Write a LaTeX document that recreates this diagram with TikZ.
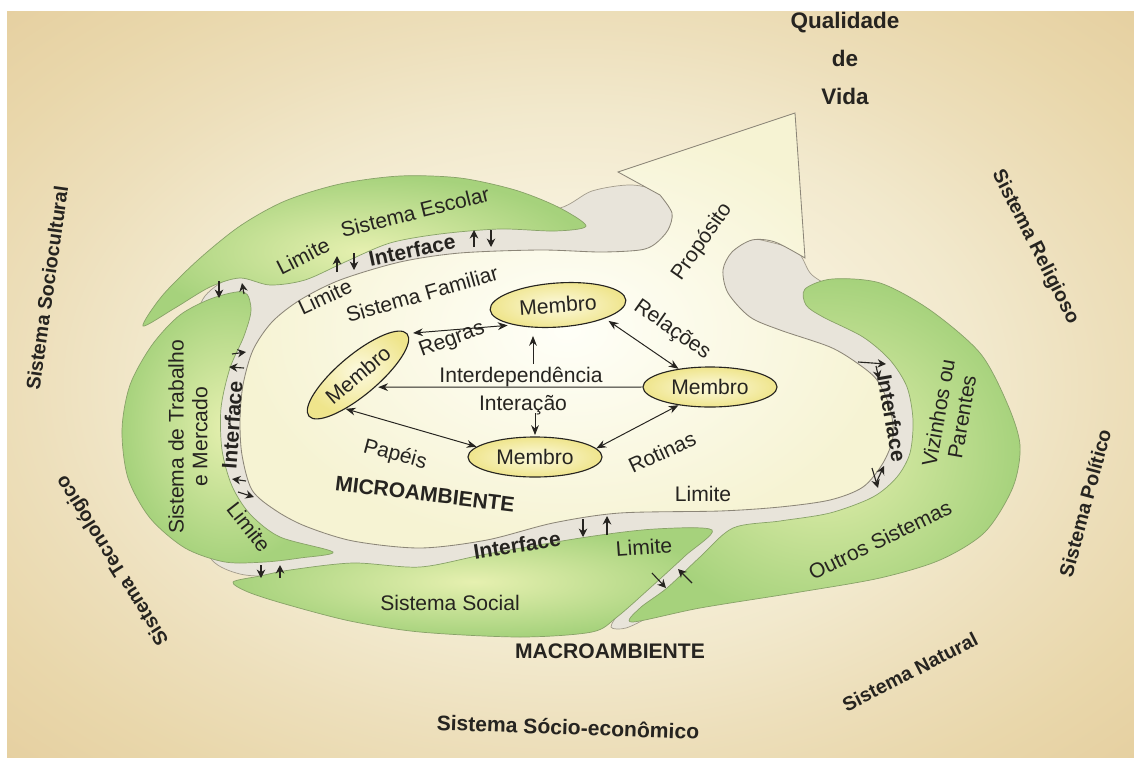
\documentclass[tikz,border=0pt]{standalone}
\usepackage{fontspec}
\setmainfont{Liberation Sans}
\usetikzlibrary{arrows.meta}
\usetikzlibrary{shapes.geometric}

\definecolor{ink}{HTML}{262420}
\definecolor{bgA}{HTML}{FCFAEE}
\definecolor{bgB}{HTML}{F7F1DC}
\definecolor{bgC}{HTML}{F2E9CD}
\definecolor{bgD}{HTML}{EDDFBB}
\definecolor{bgE}{HTML}{E9D7AB}
\definecolor{bgF}{HTML}{E5CE9E}
\definecolor{bandgray}{HTML}{E8E4DA}
\definecolor{bandline}{HTML}{A39C8C}
\definecolor{famin}{HTML}{FFFFF8}
\definecolor{famout}{HTML}{F6F3D3}
\definecolor{famline}{HTML}{8C8678}
\definecolor{grn}{HTML}{A6D27C}
\definecolor{grnlite}{HTML}{E6F0B0}
\definecolor{grnline}{HTML}{88A268}
\definecolor{mbin}{HTML}{FCF9DE}
\definecolor{mbout}{HTML}{EFE58C}

\pgfdeclareradialshading{bgshade}{\pgfpoint{0bp}{0bp}}{color(0bp)=(bgA); color(11bp)=(bgB); color(18bp)=(bgC); color(24bp)=(bgD); color(30bp)=(bgE); color(37bp)=(bgF); color(50bp)=(bgF)}

\begin{document}
\begin{tikzpicture}[x=0.025cm, y=-0.025cm,
    lbl/.style={text=ink, font=\fontsize{15}{17}\selectfont, inner sep=1pt},
    blbl/.style={lbl, font=\fontsize{15}{17}\selectfont\bfseries},
    olbl/.style={text=ink, font=\fontsize{14}{16}\selectfont\bfseries, inner sep=1pt},
    band/.style={fill=bandgray, draw=bandline, line width=0.5pt},
    famarea/.style={draw=famline, line width=0.6pt, inner color=famin, outer color=famout},
    sysarea/.style={draw=grnline, line width=0.5pt, inner color=grnlite, outer color=grn},
    membro/.style={ellipse, draw=ink, line width=0.8pt, inner color=mbin, outer color=mbout,
        minimum width=3.35cm, minimum height=1cm, inner sep=0pt, text=ink,
        font=\fontsize{15}{17}\selectfont},
    arr/.style={draw=ink, line width=0.7pt, -{Stealth[length=7pt,width=5.5pt]}},
    darr/.style={draw=ink, line width=0.7pt, {Stealth[length=7pt,width=5.5pt]}-{Stealth[length=7pt,width=5.5pt]}},
    sarr/.style={draw=ink, line width=0.8pt, -{Stealth[length=6pt,width=6pt]}}]

    \useasboundingbox (0,0) rectangle (1134,758);
    \fill[white] (0,0) rectangle (1134,758);

    % background rings
    \shade[shading=bgshade] (7,11) rectangle (1134,758);

    % interface band
    \draw[band] plot[smooth cycle, tension=0.5] coordinates {
        (205,296) (240,273) (300,262) (350,246) (420,226) (500,216) (560,208)
        (592,191) (632,185) (664,194) (700,222) (745,236) (795,250) (812,275)
        (845,295) (885,322) (918,368) (930,410) (925,460) (900,500) (860,520)
        (790,530) (745,536) (715,560) (682,592) (650,616) (626,628) (611,627)
        (622,610) (648,588) (672,563) (684,548) (640,545) (590,550) (500,565)
        (420,576) (330,572) (275,576) (240,574) (212,560) (195,520) (188,460)
        (190,390) (195,330)};

    % family system with purpose arrow
    \draw[famarea] plot[smooth, tension=0.5] coordinates {
        (660,195) (672,213) (668,230) (655,244) (640,250) (600,252) (540,250)
        (460,253) (400,262) (340,280) (300,300) (272,322) (253,350) (243,385)
        (240,420) (242,455) (252,490) (275,510) (305,526) (353,541) (420,548)
        (487,540) (553,523) (620,513) (720,511) (780,507) (830,500) (863,487)
        (883,463) (893,437) (890,408) (877,380) (857,363) (830,347) (780,330)
        (750,317) (728,293) (723,270) (732,252) (752,240) (775,242) (805,258)}
        -- (795,113) -- (618,172) -- cycle;

    % surrounding systems
    \draw[sysarea] plot[smooth cycle, tension=0.5] coordinates {
        (143,326) (162,296) (198,260) (240,226) (285,201) (340,184) (400,176)
        (460,178) (515,190) (558,207) (586,226) (555,231) (500,229) (440,234)
        (390,243) (345,262) (305,280) (270,285) (240,278) (210,287) (175,308)};
    \draw[sysarea] plot[smooth cycle, tension=0.5] coordinates {
        (244,292) (251,310) (244,336) (230,368) (221,408) (222,450) (232,486)
        (250,514) (280,537) (333,552) (300,558) (265,562) (225,562) (185,548)
        (150,518) (128,478) (122,430) (130,385) (152,345) (180,315) (213,298)};
    \draw[sysarea] plot[smooth cycle, tension=0.5] coordinates {
        (233,582) (260,576) (290,570) (353,563) (420,567) (487,554) (587,537)
        (655,529) (712,530) (685,556) (650,588) (617,617) (592,632) (520,637)
        (420,632) (350,621) (285,604) (248,592)};
    \draw[sysarea] plot[smooth cycle, tension=0.5] coordinates {
        (805,289) (832,279) (880,283) (930,310) (980,353) (1007,403) (1020,445)
        (1013,487) (985,532) (940,560) (880,578) (800,592) (700,608) (632,622)
        (640,608) (667,588) (700,557) (733,528) (780,521) (830,513) (873,497)
        (897,477) (910,453) (913,420) (907,387) (890,360) (863,337) (823,317)
        (806,305)};

    % members
    \node[membro, minimum width=3.4cm, minimum height=1.1cm, rotate=4] (mt) at (558,305) {Membro};
    \node[membro, minimum width=3.2cm, rotate=40] (ml) at (358,375) {Membro};
    \node[membro] (mr) at (710,387) {Membro};
    \node[membro] (mb) at (535,457) {Membro};

    \coordinate (up0) at (533,364);
    \coordinate (dn0) at (535,413);
    \draw[darr, shorten <=4pt, shorten >=4pt] (ml.east) -- (mt.200);
    \draw[darr, shorten <=3pt] (mt.-20) -- (mr.150);
    \draw[darr] (ml.-150) -- (mb.170);
    \draw[darr] (mb.8) -- (mr.210);
    \draw[arr, shorten >=2pt] (mr.west) -- (ml.-75);
    \draw[arr, shorten >=6pt] (up0) -- (up0 |- mt.south);
    \draw[arr, shorten >=1pt] (dn0) -- (dn0 |- mb.north);

    % interface arrows
    \foreach \xa/\ya/\xb/\yb in {219/281/219/298, 244/294/242/283,
        337/272/337/256, 354/253/354/270, 474/247/474/230, 491/230/491/247,
        232/354/246/352, 244/368/229/367, 246/481/232/479, 238/492/254/497,
        261/565/261/578, 280/578/280/565, 583/519/583/537, 607/535/607/516,
        652/573/666/588, 692/583/678/569, 858/362/886/364, 876/366/879/379,
        876/483/884/466, 872/468/878/488}
        \draw[sarr] (\xa,\ya) -- (\xb,\yb);

    % labels
    \node[lbl, rotate=14] (escolar) at (415,212) {Sistema Escolar};
    \node[lbl, rotate=27] (lim1) at (303,256) {Limite};
    \node[blbl, rotate=12] (if1) at (412,250) {Interface};
    \node[lbl, rotate=25] (lim2) at (325,297) {Limite};
    \node[lbl, rotate=16] (familiar) at (422,294) {Sistema Familiar};
    \node[lbl, rotate=90, align=center] (trabalho) at (188,437) {Sistema de Trabalho\\e Mercado};
    \node[blbl, rotate=86] (if2) at (232,425) {Interface};
    \node[lbl, rotate=-52] (lim3) at (249,527) {Limite};
    \node[blbl, rotate=9] (if3) at (517,545) {Interface};
    \node[lbl, rotate=4] (lim4) at (644,547) {Limite};
    \node[lbl] (social) at (450,603) {Sistema Social};
    \node[lbl] (lim5) at (703,494) {Limite};
    \node[blbl, rotate=-80] (if4) at (892,418) {Interface};
    \node[lbl, rotate=80, align=center] (vizinhos) at (950,415) {Vizinhos ou\\Parentes};
    \node[lbl, rotate=26] (outros) at (880,540) {Outros Sistemas};
    \node[lbl, rotate=55] (proposito) at (702,242) {Propósito};
    \node[lbl, rotate=20] (regras) at (452,340) {Regras};
    \node[lbl, rotate=-35] (relacoes) at (672,330) {Relações};
    \node[lbl] (interdep) at (521,377) {Interdependência};
    \node[lbl] (interacao) at (523,405) {Interação};
    \node[lbl, rotate=-15] (papeis) at (395,455) {Papéis};
    \node[lbl, rotate=25] (rotinas) at (662,452) {Rotinas};
    \node[blbl, rotate=-7] (micro) at (425,494) {MICROAMBIENTE};
    \node[blbl] (macro) at (610,651) {MACROAMBIENTE};
    \node[text=ink, font=\fontsize{16}{27}\selectfont\bfseries, align=center] (qvida) at (845,58) {Qualidade\\de\\Vida};

    % outer systems
    \node[olbl, rotate=82] (sociocult) at (47,288) {Sistema Sociocultural};
    \node[olbl, rotate=-63] (religioso) at (1035,247) {Sistema Religioso};
    \node[olbl, rotate=75] (politico) at (1085,503) {Sistema Político};
    \node[olbl, rotate=27] (natural) at (910,672) {Sistema Natural};
    \node[olbl, font=\fontsize{15}{17}\selectfont\bfseries, rotate=-2] (socioeco) at (568,727) {Sistema Sócio-econômico};
    \node[olbl, rotate=122] (tecno) at (113,560) {Sistema Tecnológico};
\end{tikzpicture}
\end{document}
